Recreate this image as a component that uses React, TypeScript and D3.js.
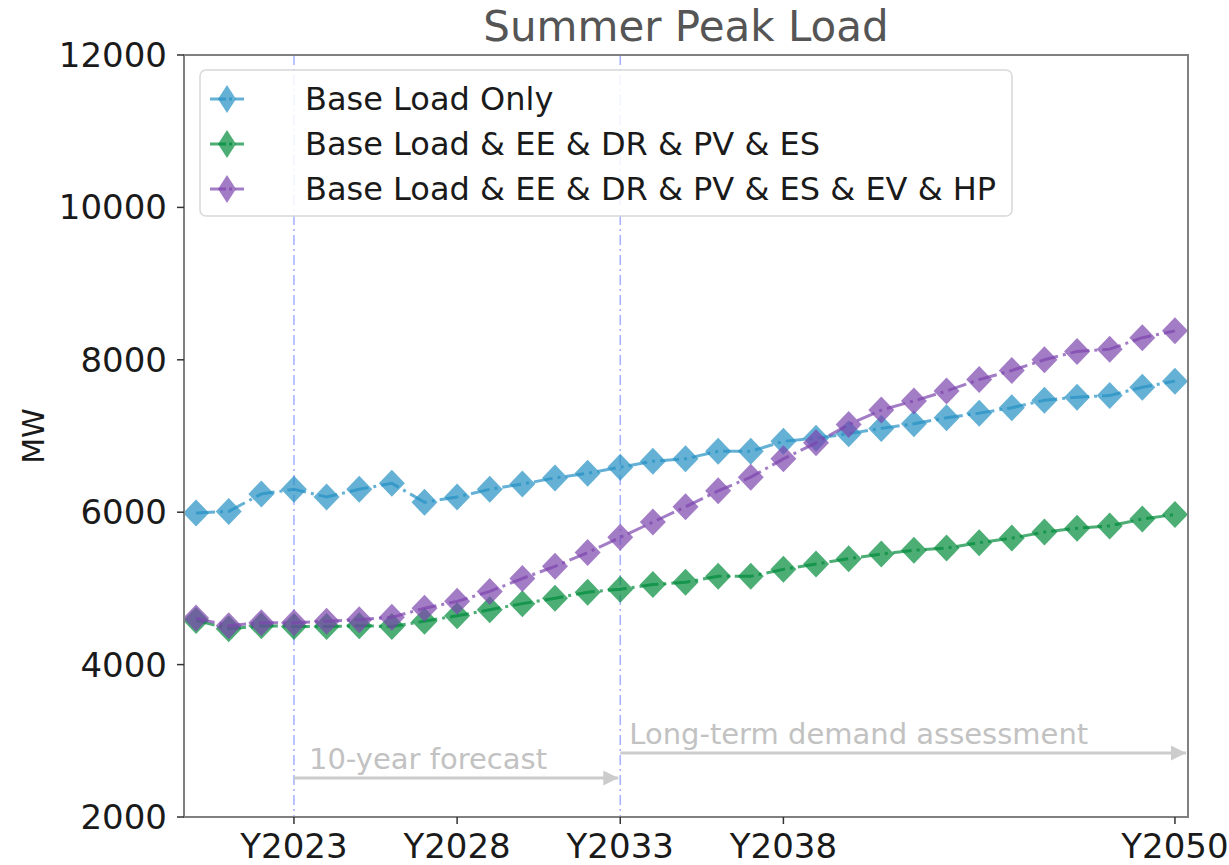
import React from "react";
import * as d3 from "d3";

const years: number[] = d3.range(2020, 2051);
const baseLoadOnly: number[] = [5990, 6010, 6240, 6300, 6200, 6300, 6380, 6130, 6200, 6300, 6370, 6450, 6510, 6590, 6670, 6700, 6800, 6800, 6930, 6970, 7030, 7100, 7160, 7240, 7300, 7370, 7470, 7510, 7530, 7640, 7720];
const withDer: number[] = [4580, 4470, 4510, 4500, 4500, 4510, 4500, 4570, 4640, 4720, 4800, 4870, 4950, 4990, 5050, 5080, 5160, 5160, 5250, 5320, 5390, 5450, 5500, 5530, 5600, 5660, 5740, 5790, 5820, 5910, 5970];
const withEvHp: number[] = [4610, 4510, 4550, 4550, 4570, 4590, 4620, 4740, 4830, 4960, 5130, 5290, 5470, 5670, 5870, 6070, 6280, 6460, 6700, 6910, 7150, 7340, 7460, 7590, 7740, 7860, 8000, 8110, 8140, 8290, 8380];
const seriesNames: string[] = ["Base Load Only", "Base Load & EE & DR & PV & ES", "Base Load & EE & DR & PV & ES & EV & HP"];
const seriesColors: string[] = ["#2390c3", "#008a3a", "#7c44ae"];
const xTickYears: number[] = [2023, 2028, 2033, 2038, 2050];
const yTicks: number[] = [2000, 4000, 6000, 8000, 10000, 12000];
const markerYears: number[] = [2023, 2033];

const W = 1229, H = 865;
const L = 184, R = 1188, T = 55, B = 817;

export default function App() {
  const x = d3.scaleLinear().domain([2019.63, 2050.4]).range([L, R]);
  const y = d3.scaleLinear().domain([2000, 12000]).range([B, T]);
  const data = [baseLoadOnly, withDer, withEvHp];
  const line = d3.line<number>().x((_, i) => x(years[i])).y((v) => y(v));
  const font = "'DejaVu Sans', Verdana, sans-serif";
  const diamond = (cx: number, cy: number, hw: number, hh: number) =>
    `M${cx},${cy - hh}L${cx + hw},${cy}L${cx},${cy + hh}L${cx - hw},${cy}Z`;

  return (
    <div style={{ position: "absolute", left: 0, top: 0 }}>
      <svg width={W} height={H} style={{ display: "block", background: "#fff" }} fontFamily={font}>
        <text x={(L + R) / 2} y={41} textAnchor="middle" fontSize={42} fill="#555">Summer Peak Load</text>
        {/* vertical markers */}
        {markerYears.map((yr) => (
          <line key={yr} x1={x(yr)} x2={x(yr)} y1={T} y2={B} stroke="#a9b4ff" strokeWidth={1.6} strokeDasharray="10,4,2,4" />
        ))}
        {/* series */}
        {data.map((vals, si) => (
          <g key={si}>
            <path d={line(vals) || ""} fill="none" stroke={seriesColors[si]} strokeOpacity={0.7} strokeWidth={3} strokeDasharray="19,5,3,5" />
            {vals.map((v, i) => (
              <path key={i} d={diamond(x(years[i]), y(v), 13, 13.5)} fill={seriesColors[si]} fillOpacity={0.7} />
            ))}
          </g>
        ))}
        {/* annotations */}
        <defs>
          <marker id="ah" viewBox="0 0 10 10" refX={10} refY={5} markerWidth={5} markerHeight={5} markerUnits="strokeWidth" orient="auto">
            <path d="M0,0L10,5L0,10Z" fill="#cccccc" />
          </marker>
        </defs>
        <line x1={x(2023)} x2={x(2033) - 2} y1={778} y2={778} stroke="#cccccc" strokeWidth={3} markerEnd="url(#ah)" />
        <text x={x(2023) + 15} y={769} fontSize={29} fill="#c2c2c2">10-year forecast</text>
        <line x1={x(2033)} x2={R - 2} y1={753} y2={753} stroke="#cccccc" strokeWidth={3} markerEnd="url(#ah)" />
        <text x={x(2033) + 9} y={744} fontSize={29} fill="#c2c2c2">Long-term demand assessment</text>
        {/* legend */}
        <rect x={200} y={70} width={812} height={146} rx={6} fill="#fff" fillOpacity={0.85} stroke="#d8d8d8" strokeWidth={1.5} />
        {seriesNames.map((n, i) => {
          const cy = 99 + i * 45;
          return (
            <g key={n}>
              <line x1={210} x2={244} y1={cy} y2={cy} stroke={seriesColors[i]} strokeOpacity={0.7} strokeWidth={3} strokeDasharray="16,3,3,3" />
              <path d={diamond(227, cy, 9, 14)} fill={seriesColors[i]} fillOpacity={0.7} />
              <text x={305} y={cy + 11} fontSize={32} fill="#1a1a1a">{n}</text>
            </g>
          );
        })}
        {/* spines */}
        <rect x={L} y={T} width={R - L} height={B - T} fill="none" stroke="#808080" strokeWidth={2} />
        {/* y axis */}
        {yTicks.map((t) => (
          <g key={t}>
            <line x1={L - 7} x2={L} y1={y(t)} y2={y(t)} stroke="#333" strokeWidth={1.5} />
            <text x={L - 17} y={y(t) + 12} textAnchor="end" fontSize={34} fill="#1a1a1a">{t}</text>
          </g>
        ))}
        {/* x axis */}
        {xTickYears.map((t) => (
          <g key={t}>
            <line x1={x(t)} x2={x(t)} y1={B} y2={B + 7} stroke="#333" strokeWidth={1.5} />
            <text x={x(t)} y={858} textAnchor="middle" fontSize={34} fill="#1a1a1a">{"Y" + t}</text>
          </g>
        ))}
        <text transform={`translate(44,${(T + B) / 2}) rotate(-90)`} textAnchor="middle" fontSize={30} fill="#1a1a1a">MW</text>
      </svg>
    </div>
  );
}
